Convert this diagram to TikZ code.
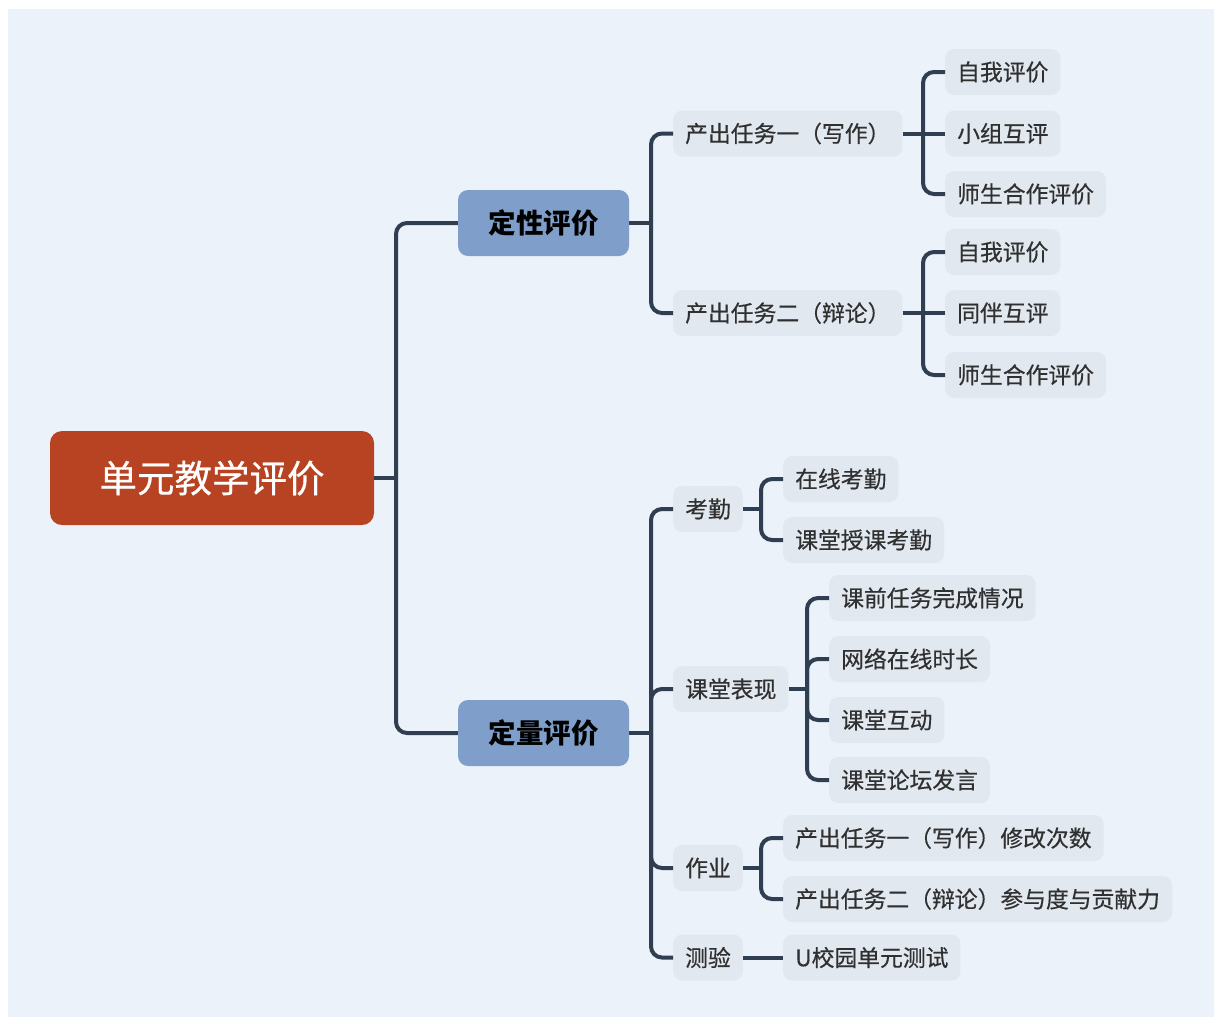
\documentclass[tikz,border=0pt]{standalone}
\usepackage{fontspec}
\setmainfont{Noto Sans CJK SC}
\newfontfamily\medfont{Noto Sans CJK SC}[FakeBold=0.45]
\definecolor{bgc}{HTML}{EBF2FA}
\definecolor{boxc}{HTML}{E1E8F0}
\definecolor{linec}{HTML}{2F3E50}
\definecolor{rootc}{HTML}{B84322}
\definecolor{midc}{HTML}{7F9FCA}
\definecolor{txtc}{HTML}{303030}
\begin{document}
\begin{tikzpicture}[x=1pt,y=-1pt,
  leaf/.style={anchor=west, fill=boxc, rounded corners=9pt, inner xsep=12pt, inner ysep=0pt,
    minimum height=46pt, text=txtc, font=\medfont\fontsize{22.8pt}{24pt}\selectfont},
  midbox/.style={fill=midc, rounded corners=10pt, minimum width=171pt, minimum height=66pt,
    inner sep=0pt, text=black, font=\fontsize{27.5pt}{30pt}\selectfont\bfseries},
  rootbox/.style={fill=rootc, rounded corners=12pt, minimum width=324pt, minimum height=94pt,
    inner sep=0pt, text=white, font=\medfont\fontsize{37.5pt}{40pt}\selectfont},
  conn/.style={draw=linec, line width=4pt, rounded corners=11pt}]
\useasboundingbox (0,0) rectangle (1214,1017);
\fill[bgc] (8,9) rectangle (1214,1017);

% root and level 1
\node[rootbox] (root) at (212,478) {单元教学评价};
\node[midbox] (qual) at (543.5,223) {定性评价};
\node[midbox] (quant) at (543.5,733) {定量评价};

% qualitative branch
\node[leaf] (t1) at (673,133.5) {产出任务一（写作）};
\node[leaf] (t2) at (673,313) {产出任务二（辩论）};
\node[leaf] (a1) at (945,72) {自我评价};
\node[leaf] (a2) at (945,133.5) {小组互评};
\node[leaf] (a3) at (945,194) {师生合作评价};
\node[leaf] (b1) at (945,252) {自我评价};
\node[leaf] (b2) at (945,313) {同伴互评};
\node[leaf] (b3) at (945,375) {师生合作评价};

% quantitative branch
\node[leaf] (c1) at (673,509) {考勤};
\node[leaf] (c2) at (673,689) {课堂表现};
\node[leaf] (c3) at (673,868) {作业};
\node[leaf] (c4) at (673,957.5) {测验};
\node[leaf] (d1) at (783,479) {在线考勤};
\node[leaf] (d2) at (783,540) {课堂授课考勤};
\node[leaf] (e1) at (829,598) {课前任务完成情况};
\node[leaf] (e2) at (829,659) {网络在线时长};
\node[leaf] (e3) at (829,720) {课堂互动};
\node[leaf] (e4) at (829,780) {课堂论坛发言};
\node[leaf] (f1) at (783,838) {产出任务一（写作）修改次数};
\node[leaf] (f2) at (783,899) {产出任务二（辩论）参与度与贡献力};
\node[leaf] (g1) at (783,957.5) {U校园单元测试};

% junctions
\coordinate (j0) at (396,478);
\coordinate (j1) at (651,223);
\coordinate (j2) at (923,133.5);
\coordinate (j3) at (923,313);
\coordinate (j4) at (651,733);
\coordinate (j5) at (761,509);
\coordinate (j6) at (807,689);
\coordinate (j7) at (761,868);

% connectors
\draw[conn] (root.east) -- (j0);
\draw[conn] (j0) |- (qual.west);
\draw[conn] (j0) |- (quant.west);

\draw[conn] (qual.east) -- (j1);
\draw[conn] (j1) |- (t1.west);
\draw[conn] (j1) |- (t2.west);

\draw[conn] (t1.east) -- (j2);
\draw[conn] (j2) |- (a1.west);
\draw[conn] (j2) -- (a2.west);
\draw[conn] (j2) |- (a3.west);

\draw[conn] (t2.east) -- (j3);
\draw[conn] (j3) |- (b1.west);
\draw[conn] (j3) -- (b2.west);
\draw[conn] (j3) |- (b3.west);

\draw[conn] (quant.east) -- (j4);
\draw[conn] (j4) |- (c1.west);
\draw[conn] (j4) |- (c2.west);
\draw[conn] (j4) |- (c3.west);
\draw[conn] (j4) |- (c4.west);

\draw[conn] (c1.east) -- (j5);
\draw[conn] (j5) |- (d1.west);
\draw[conn] (j5) |- (d2.west);

\draw[conn] (c2.east) -- (j6);
\draw[conn] (j6) |- (e1.west);
\draw[conn] (j6) |- (e2.west);
\draw[conn] (j6) |- (e3.west);
\draw[conn] (j6) |- (e4.west);

\draw[conn] (c3.east) -- (j7);
\draw[conn] (j7) |- (f1.west);
\draw[conn] (j7) |- (f2.west);

\draw[conn] (c4.east) -- (g1.west);
\end{tikzpicture}
\end{document}
